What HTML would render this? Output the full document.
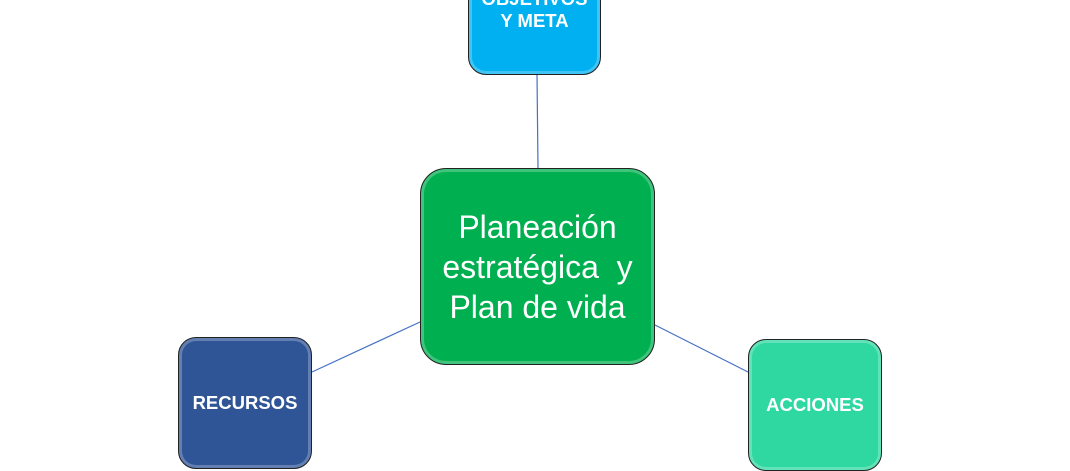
<!DOCTYPE html>
<html><head><style>
body{margin:0;width:1070px;height:470px;overflow:hidden;background:#fff;position:relative;font-family:"Liberation Sans",sans-serif}
.b{position:absolute;box-sizing:border-box;border:1.5px solid #222;border-radius:18px;color:#fff;font-weight:bold;display:flex;align-items:center;justify-content:center;text-align:center;box-shadow:inset 0 0 0 3px rgba(255,255,255,0.25)}
</style></head><body>
<svg width="1070" height="470" style="position:absolute;left:0;top:0">
<line x1="537" y1="74" x2="538" y2="168" stroke="#4472C4" stroke-width="1.2"/>
<line x1="312" y1="372" x2="420" y2="322" stroke="#4472C4" stroke-width="1.2"/>
<line x1="655" y1="325" x2="748" y2="372" stroke="#4472C4" stroke-width="1.2"/>
</svg>
<div class="b" style="left:468px;top:-60px;width:133px;height:135px;background:#00B0F0;font-size:18.5px;line-height:22px;align-items:flex-end;padding-bottom:42px">OBJETIVOS<br>Y META</div>
<div class="b" style="left:420px;top:168px;width:235px;height:197px;background:#00B050;font-weight:normal;font-size:32px;line-height:40px;border-radius:26px">Planeación<br>estratégica&nbsp; y<br>Plan de vida</div>
<div class="b" style="left:178px;top:337px;width:134px;height:132px;background:#2F5597;font-size:18.5px">RECURSOS</div>
<div class="b" style="left:748px;top:339px;width:134px;height:132px;background:#2ED8A0;font-size:18.5px">ACCIONES</div>
</body></html>
